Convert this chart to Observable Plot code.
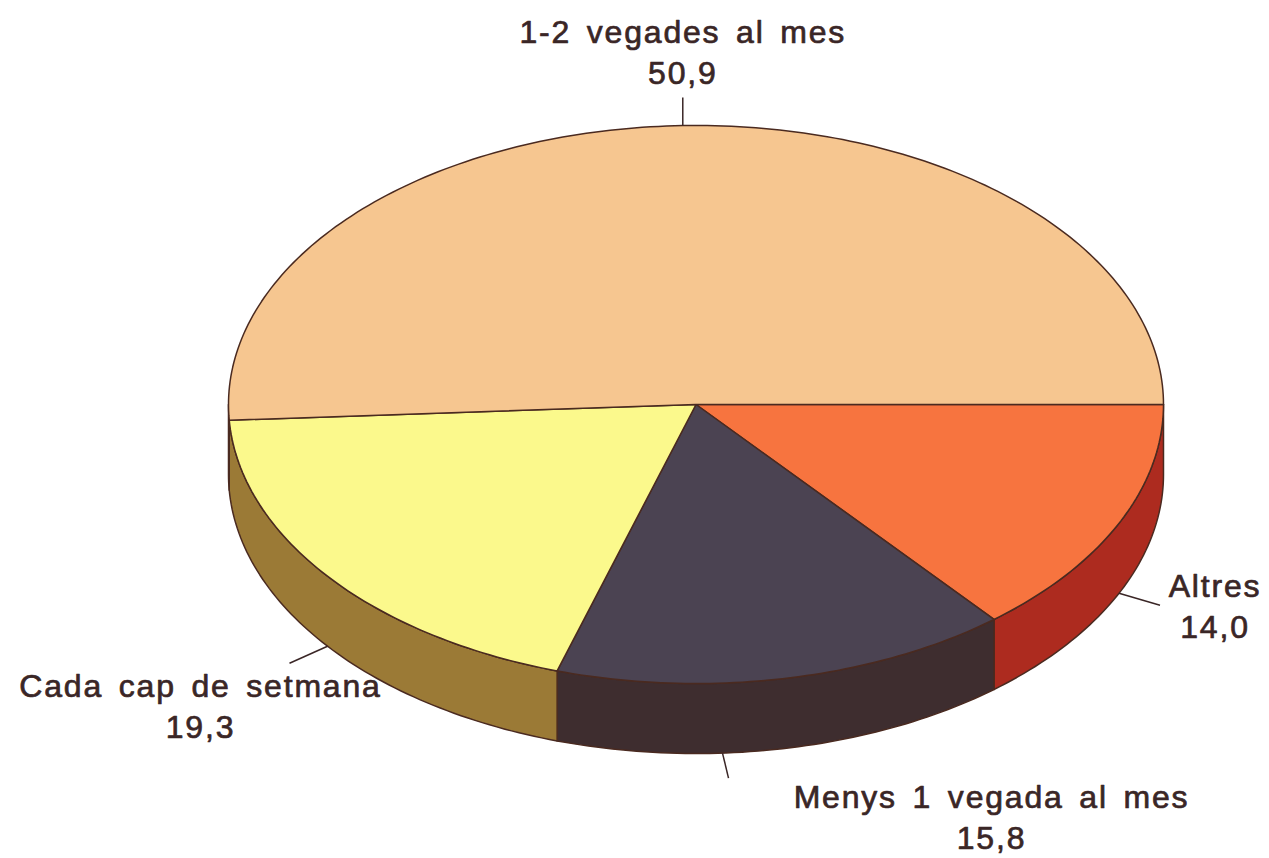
<!DOCTYPE html>
<html><head><meta charset="utf-8">
<script src="https://cdn.jsdelivr.net/npm/d3@7"></script>
<script src="https://cdn.jsdelivr.net/npm/@observablehq/plot@0.6"></script>
<style>
html,body{margin:0;padding:0;background:#fff;}
#chart svg text{letter-spacing:1.8px;word-spacing:5px;}
</style></head><body><div id="chart"></div>
<script>
// ---- data ----
const categories = ["Altres", "Menys 1 vegada al mes", "Cada cap de setmana", "1-2 vegades al mes"];
const values = [14.0, 15.8, 19.3, 50.9];
const valueLabels = ["14,0", "15,8", "19,3", "50,9"];
const topColors = ["#f7743f", "#4b4352", "#fbf98c", "#f6c690"];
const sideColors = ["#ad2b1f", "#3e2d2f", "#9b7a36", "#c99a62"];

// ---- layout (pixels) ----
const W = 1269, H = 858, CX = 695.5, CY = 404, RX = 467.5, RY = 279, DEPTH = 70;
// leader start angle (deg, null = slice middle), leader vector, text offset from leader end
const labelLayout = [
  {angle: null, front: true,  lx: 41, ly: 12, tx: 55, ty: 33},
  {angle: 86.75, front: true, lx: 6, ly: 25, tx: 263, ty: 71},
  {angle: null, front: true,  lx: -38, ly: 17, tx: -89, ty: 75},
  {angle: null, front: false, lx: 0, ly: -28, tx: 0, ty: -14}
];
const depth = DEPTH / RY;
const pu = px => px / RX, pv = px => px / RY;

const arcs = d3.pie().sort(null).startAngle(0).endAngle(2 * Math.PI)(values);

function arcPts(a0, a1, dv) {
  const n = Math.max(2, Math.ceil((a1 - a0) / (Math.PI / 180)));
  const pts = [];
  for (let i = 0; i <= n; i++) {
    const t = a0 + (a1 - a0) * i / n;
    pts.push([Math.cos(t), Math.sin(t) + dv]);
  }
  return pts;
}

const sides = [], tops = [];
arcs.forEach((a, i) => {
  const s0 = Math.max(a.startAngle, 0), s1 = Math.min(a.endAngle, Math.PI);
  if (s1 > s0) {
    const pts = arcPts(s0, s1, 0).concat(arcPts(s0, s1, depth).reverse());
    pts.forEach(([x, y]) => sides.push({id: "s" + i, x, y, color: sideColors[i]}));
  }
  const tp = [[0, 0]].concat(arcPts(a.startAngle, a.endAngle, 0));
  tp.forEach(([x, y]) => tops.push({id: "t" + i, x, y, color: topColors[i]}));
});

const leaders = [], labels = [];
arcs.forEach((a, i) => {
  const L = labelLayout[i];
  const t = L.angle == null ? (a.startAngle + a.endAngle) / 2 : L.angle * Math.PI / 180;
  const x1 = Math.cos(t), y1 = Math.sin(t) + (L.front ? depth : 0);
  const x2 = x1 + pu(L.lx), y2 = y1 + pv(L.ly);
  leaders.push({x1, y1, x2, y2});
  labels.push({x: x2 + pu(L.tx), y: y2 + pv(L.ty), text: categories[i] + "\n" + valueLabels[i]});
});

const edge = "#4a2a20";
const ink = "#3a2626";
const chart = Plot.plot({
  width: W, height: H, margin: 0,
  x: {axis: null, domain: [-CX / RX, (W - CX) / RX], range: [0, W]},
  y: {axis: null, domain: [-CY / RY, (H - CY) / RY], range: [0, H]},
  style: {background: "#ffffff"},
  marks: [
    Plot.line(sides, {x: "x", y: "y", z: "id", fill: "color", stroke: edge, strokeWidth: 1.5, curve: "linear-closed", strokeLinejoin: "round"}),
    Plot.line(tops, {x: "x", y: "y", z: "id", fill: "color", stroke: edge, strokeWidth: 1.5, curve: "linear-closed", strokeLinejoin: "round"}),
    Plot.link(leaders, {x1: "x1", y1: "y1", x2: "x2", y2: "y2", stroke: ink, strokeWidth: 1.5}),
    Plot.text(labels, {x: "x", y: "y", text: "text", textAnchor: "middle", lineAnchor: "bottom", lineHeight: 1.28,
      fontSize: 32, fontFamily: "Liberation Sans, Arial, sans-serif", fill: ink, stroke: ink, strokeWidth: 0.7})
  ]
});
document.getElementById("chart").appendChild(chart);
</script></body></html>
